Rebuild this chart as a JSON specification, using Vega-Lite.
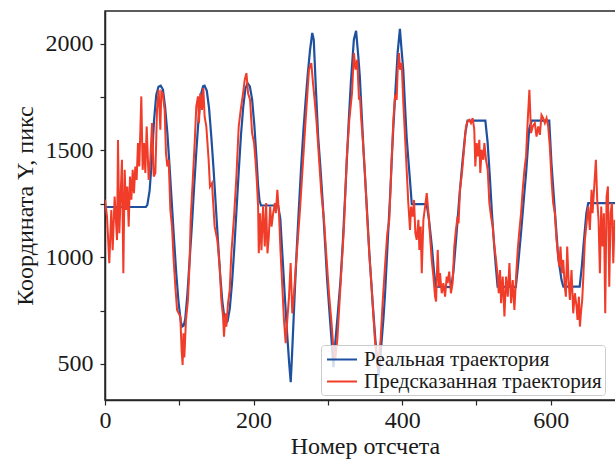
{
  "$schema": "https://vega.github.io/schema/vega-lite/v6.json",
  "width": 520,
  "height": 389,
  "autosize": {"type": "none"},
  "padding": {"left": 105, "top": 11, "right": 0, "bottom": 59},
  "background": "white",
  "config": {
    "font": "Liberation Serif",
    "view": {"stroke": "#262626", "strokeWidth": 1.5},
    "axis": {
      "grid": false,
      "labelFlush": false,
      "domainColor": "#262626",
      "domainWidth": 1.5,
      "tickColor": "#262626",
      "tickWidth": 1.2,
      "tickSize": 5,
      "labelFont": "Liberation Serif",
      "titleFont": "Liberation Serif",
      "labelFontSize": 24,
      "labelColor": "#1a1a1a",
      "titleFontSize": 24,
      "titleFontWeight": "normal",
      "titleColor": "#1a1a1a"
    },
    "legend": {
      "labelFont": "Liberation Serif",
      "labelFontSize": 21,
      "labelColor": "#1a1a1a",
      "labelLimit": 0
    }
  },
  "datasets": {
    "real": [
      {"x":0,"y":1235},{"x":55,"y":1235},{"x":57,"y":1245},{"x":60,"y":1310},{"x":63,"y":1450},{"x":66,"y":1640},{"x":69,"y":1760},{"x":72,"y":1798},{"x":75,"y":1803},{"x":78,"y":1785},{"x":81,"y":1700},{"x":84,"y":1580},{"x":87,"y":1420},{"x":90,"y":1250},{"x":93,"y":1080},{"x":96,"y":920},{"x":99,"y":790},{"x":102,"y":700},{"x":104,"y":675},{"x":106,"y":680},{"x":108,"y":710},{"x":111,"y":830},{"x":114,"y":990},{"x":117,"y":1150},{"x":120,"y":1330},{"x":123,"y":1500},{"x":126,"y":1650},{"x":129,"y":1760},{"x":132,"y":1800},{"x":134,"y":1803},{"x":137,"y":1780},{"x":140,"y":1700},{"x":143,"y":1570},{"x":146,"y":1420},{"x":149,"y":1250},{"x":152,"y":1080},{"x":155,"y":920},{"x":158,"y":790},{"x":161,"y":710},{"x":163,"y":692},{"x":165,"y":700},{"x":168,"y":760},{"x":171,"y":880},{"x":174,"y":1040},{"x":177,"y":1220},{"x":180,"y":1400},{"x":183,"y":1570},{"x":186,"y":1700},{"x":189,"y":1790},{"x":192,"y":1815},{"x":195,"y":1800},{"x":198,"y":1740},{"x":201,"y":1620},{"x":204,"y":1460},{"x":206,"y":1340},{"x":208,"y":1265},{"x":210,"y":1242},{"x":233,"y":1242},{"x":236,"y":1180},{"x":239,"y":1000},{"x":242,"y":820},{"x":245,"y":650},{"x":248,"y":500},{"x":250,"y":414},{"x":252,"y":560},{"x":255,"y":800},{"x":258,"y":1030},{"x":261,"y":1230},{"x":264,"y":1420},{"x":267,"y":1590},{"x":270,"y":1730},{"x":273,"y":1860},{"x":276,"y":1970},{"x":279,"y":2050},{"x":281,"y":2019},{"x":284,"y":1780},{"x":287,"y":1560},{"x":290,"y":1420},{"x":293,"y":1260},{"x":296,"y":1080},{"x":299,"y":894},{"x":302,"y":750},{"x":305,"y":610},{"x":307.5,"y":485},{"x":310,"y":600},{"x":313,"y":720},{"x":317,"y":890},{"x":320,"y":1060},{"x":322,"y":1200},{"x":324,"y":1340},{"x":326,"y":1487},{"x":328,"y":1630},{"x":331,"y":1820},{"x":335,"y":2019},{"x":338,"y":2060},{"x":341,"y":1940},{"x":343,"y":1847},{"x":346,"y":1640},{"x":348,"y":1500},{"x":350,"y":1380},{"x":352,"y":1260},{"x":356,"y":1010},{"x":360,"y":800},{"x":364,"y":610},{"x":368.5,"y":440},{"x":372,"y":590},{"x":375,"y":720},{"x":377,"y":830},{"x":381,"y":1100},{"x":384,"y":1300},{"x":386,"y":1456},{"x":388,"y":1600},{"x":390,"y":1720},{"x":392,"y":1840},{"x":394,"y":1960},{"x":397,"y":2069},{"x":399,"y":1980},{"x":401.5,"y":1878},{"x":404,"y":1700},{"x":406,"y":1565},{"x":408.5,"y":1450},{"x":410.5,"y":1362},{"x":413,"y":1248},{"x":433,"y":1248},{"x":436,"y":1180},{"x":440,"y":1050},{"x":443,"y":930},{"x":445.5,"y":862},{"x":466,"y":860},{"x":469,"y":930},{"x":473,"y":1100},{"x":477,"y":1280},{"x":481,"y":1440},{"x":485,"y":1580},{"x":488,"y":1640},{"x":512,"y":1640},{"x":515,"y":1540},{"x":518,"y":1380},{"x":521,"y":1200},{"x":524,"y":1050},{"x":526,"y":960},{"x":528.5,"y":862},{"x":553,"y":860},{"x":556,"y":960},{"x":560,"y":1112},{"x":564,"y":1280},{"x":567,"y":1400},{"x":571,"y":1600},{"x":574.5,"y":1640},{"x":598,"y":1640},{"x":601,"y":1440},{"x":605.5,"y":1220},{"x":608,"y":1100},{"x":610,"y":1003},{"x":614.5,"y":894},{"x":617,"y":862},{"x":639,"y":862},{"x":642,"y":960},{"x":644,"y":1050},{"x":648,"y":1206},{"x":650.5,"y":1253},{"x":700,"y":1253}
    ],
    "pred": [
      {"x":0,"y":1269},{"x":2.7,"y":1190},{"x":5.8,"y":972},{"x":8.5,"y":1221},{"x":10.3,"y":1033},{"x":13,"y":1284},{"x":16.2,"y":1080},{"x":17.5,"y":1549},{"x":19.3,"y":1112},{"x":21,"y":1284},{"x":22.8,"y":1456},{"x":24.7,"y":925},{"x":26.5,"y":1409},{"x":28.3,"y":1221},{"x":30.1,"y":1331},{"x":31.9,"y":1143},{"x":33.7,"y":1378},{"x":35.5,"y":1269},{"x":37.3,"y":1409},{"x":39,"y":1300},{"x":40.8,"y":1425},{"x":42.6,"y":1362},{"x":44.4,"y":1534},{"x":46.2,"y":1425},{"x":48.9,"y":1753},{"x":50.7,"y":1409},{"x":52.5,"y":1534},{"x":54.3,"y":1394},{"x":56.1,"y":1612},{"x":58.8,"y":1362},{"x":61,"y":1456},{"x":63.3,"y":1628},{"x":65.6,"y":1378},{"x":67.8,"y":1394},{"x":70,"y":1690},{"x":72.2,"y":1784},{"x":74.5,"y":1597},{"x":75.8,"y":1776},{"x":77.6,"y":1768},{"x":80.3,"y":1690},{"x":82.1,"y":1487},{"x":83.9,"y":1425},{"x":85.7,"y":1456},{"x":88,"y":1221},{"x":90.2,"y":1143},{"x":92.4,"y":987},{"x":94.7,"y":862},{"x":97,"y":753},{"x":99.2,"y":737},{"x":101.4,"y":722},{"x":103.2,"y":560},{"x":104.5,"y":495},{"x":105.6,"y":643},{"x":106.8,"y":530},{"x":109,"y":706},{"x":111.7,"y":800},{"x":114,"y":987},{"x":115.3,"y":1175},{"x":118.4,"y":1378},{"x":120.7,"y":1534},{"x":122.9,"y":1706},{"x":125.2,"y":1753},{"x":126.5,"y":1628},{"x":128.3,"y":1768},{"x":130.6,"y":1690},{"x":132.4,"y":1792},{"x":134.1,"y":1659},{"x":136.4,"y":1612},{"x":139.5,"y":1456},{"x":141.3,"y":1331},{"x":144,"y":1347},{"x":147.6,"y":1143},{"x":151.2,"y":1080},{"x":154.4,"y":956},{"x":156.6,"y":800},{"x":158.9,"y":722},{"x":160.2,"y":628},{"x":162,"y":737},{"x":163.4,"y":675},{"x":165.6,"y":784},{"x":167.9,"y":847},{"x":170.1,"y":1018},{"x":173.7,"y":1190},{"x":176.9,"y":1378},{"x":180,"y":1612},{"x":182.7,"y":1690},{"x":185.9,"y":1768},{"x":188.1,"y":1831},{"x":190.4,"y":1862},{"x":192.6,"y":1768},{"x":195.3,"y":1737},{"x":198,"y":1581},{"x":200.7,"y":1534},{"x":202.5,"y":1456},{"x":204.3,"y":1362},{"x":206.1,"y":1237},{"x":207,"y":1018},{"x":208.8,"y":1206},{"x":210.6,"y":1033},{"x":212.8,"y":1237},{"x":215.1,"y":1050},{"x":216.9,"y":1253},{"x":218.7,"y":1018},{"x":220.5,"y":1097},{"x":222.3,"y":1237},{"x":224.2,"y":1143},{"x":226.4,"y":1206},{"x":228.7,"y":1253},{"x":230,"y":1206},{"x":232,"y":1315},{"x":234.2,"y":1206},{"x":236.4,"y":1018},{"x":238.7,"y":862},{"x":240.9,"y":706},{"x":243.2,"y":597},{"x":245.4,"y":706},{"x":247.7,"y":815},{"x":249.9,"y":972},{"x":252.1,"y":737},{"x":254.4,"y":831},{"x":256.6,"y":940},{"x":258.9,"y":1050},{"x":262.5,"y":1222},{"x":265.6,"y":1394},{"x":270.1,"y":1643},{"x":274.6,"y":1878},{"x":277.7,"y":1909},{"x":280,"y":1815},{"x":282.2,"y":1737},{"x":284.9,"y":1628},{"x":287.6,"y":1487},{"x":291.2,"y":1300},{"x":294.8,"y":1175},{"x":298.4,"y":987},{"x":301.5,"y":831},{"x":304.6,"y":706},{"x":307.3,"y":581},{"x":310,"y":520},{"x":312.7,"y":612},{"x":317.2,"y":878},{"x":321.7,"y":1143},{"x":325.3,"y":1456},{"x":328.9,"y":1643},{"x":332.5,"y":1768},{"x":335.1,"y":1956},{"x":337.4,"y":1878},{"x":339.6,"y":1925},{"x":341.9,"y":1737},{"x":343.2,"y":1753},{"x":345,"y":1643},{"x":347.7,"y":1518},{"x":349.9,"y":1394},{"x":352.2,"y":1237},{"x":354.4,"y":1097},{"x":356.6,"y":972},{"x":358.9,"y":862},{"x":361.1,"y":737},{"x":363.4,"y":612},{"x":367,"y":480},{"x":371,"y":612},{"x":373.7,"y":784},{"x":376.9,"y":956},{"x":380,"y":1112},{"x":382.7,"y":1175},{"x":385.9,"y":1456},{"x":388.2,"y":1643},{"x":390.4,"y":1753},{"x":392.6,"y":1737},{"x":394,"y":1878},{"x":395.8,"y":1956},{"x":397.1,"y":1878},{"x":399.4,"y":1909},{"x":401.6,"y":1722},{"x":403.9,"y":1565},{"x":406.1,"y":1409},{"x":408.3,"y":1253},{"x":410.6,"y":1128},{"x":412,"y":1237},{"x":414.2,"y":1190},{"x":416,"y":1268},{"x":417.8,"y":1112},{"x":419.6,"y":1081},{"x":421.9,"y":1175},{"x":423.2,"y":1034},{"x":425,"y":1143},{"x":426.4,"y":925},{"x":428.6,"y":1175},{"x":430.9,"y":1237},{"x":433.1,"y":1300},{"x":435.4,"y":1206},{"x":437.6,"y":1097},{"x":439.8,"y":987},{"x":442.1,"y":909},{"x":444.3,"y":815},{"x":445.7,"y":792},{"x":446.6,"y":893},{"x":447.9,"y":1034},{"x":449.7,"y":862},{"x":451,"y":925},{"x":453.3,"y":831},{"x":455.5,"y":878},{"x":457.8,"y":815},{"x":460,"y":909},{"x":461.2,"y":878},{"x":463.4,"y":932},{"x":465.7,"y":831},{"x":467.9,"y":878},{"x":470.2,"y":1050},{"x":472.4,"y":1128},{"x":474.6,"y":1190},{"x":476,"y":1159},{"x":477.8,"y":1315},{"x":480.5,"y":1394},{"x":483.6,"y":1518},{"x":485.9,"y":1612},{"x":488.1,"y":1636},{"x":490.4,"y":1643},{"x":492.6,"y":1628},{"x":494.9,"y":1651},{"x":497.1,"y":1597},{"x":498.5,"y":1425},{"x":500.3,"y":1534},{"x":502.1,"y":1472},{"x":503.9,"y":1550},{"x":505.2,"y":1394},{"x":507,"y":1503},{"x":509.3,"y":1456},{"x":510.7,"y":1534},{"x":512.9,"y":1456},{"x":515.2,"y":1409},{"x":517.4,"y":1253},{"x":519.7,"y":1190},{"x":521.9,"y":1143},{"x":524.2,"y":1050},{"x":526.4,"y":987},{"x":528.7,"y":909},{"x":530,"y":831},{"x":531.8,"y":940},{"x":533.2,"y":784},{"x":535.4,"y":909},{"x":537.7,"y":722},{"x":539.9,"y":909},{"x":542.2,"y":815},{"x":544.4,"y":972},{"x":546.7,"y":784},{"x":548.9,"y":893},{"x":551.1,"y":753},{"x":553.4,"y":909},{"x":555.6,"y":1034},{"x":557.9,"y":1128},{"x":560.1,"y":1206},{"x":562.3,"y":1315},{"x":564.6,"y":1409},{"x":566.8,"y":1472},{"x":569.1,"y":1643},{"x":571.3,"y":1784},{"x":573.5,"y":1581},{"x":575.8,"y":1612},{"x":578.7,"y":1628},{"x":580.9,"y":1565},{"x":583.2,"y":1612},{"x":585.4,"y":1573},{"x":587.6,"y":1666},{"x":589.9,"y":1651},{"x":592.1,"y":1628},{"x":594.4,"y":1651},{"x":596.6,"y":1612},{"x":598.8,"y":1518},{"x":601.1,"y":1362},{"x":603.3,"y":1253},{"x":605.6,"y":1206},{"x":607.8,"y":1081},{"x":610.1,"y":1003},{"x":611.4,"y":956},{"x":613.2,"y":1050},{"x":615,"y":925},{"x":616.8,"y":987},{"x":619,"y":862},{"x":620.4,"y":815},{"x":622.2,"y":1050},{"x":624,"y":893},{"x":625.8,"y":800},{"x":628,"y":940},{"x":630.3,"y":737},{"x":632.5,"y":831},{"x":634.8,"y":768},{"x":636.1,"y":706},{"x":637.9,"y":815},{"x":639.3,"y":675},{"x":640.6,"y":737},{"x":642.4,"y":800},{"x":643.7,"y":893},{"x":646,"y":1081},{"x":648.3,"y":1159},{"x":650.5,"y":1237},{"x":652.7,"y":1128},{"x":655,"y":1315},{"x":656.3,"y":1206},{"x":658.6,"y":1331},{"x":660.8,"y":1456},{"x":662.6,"y":1268},{"x":664.4,"y":1175},{"x":666.2,"y":925},{"x":668,"y":1237},{"x":669.8,"y":1050},{"x":671.6,"y":1206},{"x":673.4,"y":737},{"x":675.2,"y":1284},{"x":677,"y":1331},{"x":678.8,"y":862},{"x":680.6,"y":1206},{"x":682.4,"y":1253},{"x":684.2,"y":972},{"x":686,"y":1175},{"x":690,"y":1100},{"x":695,"y":1250},{"x":700,"y":1150}
    ]
  },
  "encoding": {
    "x": {
      "field": "x",
      "type": "quantitative",
      "scale": {"domain": [0, 700], "nice": false, "zero": false},
      "axis": {
        "title": "Номер отсчета",
        "values": [0, 100, 200, 300, 400, 500, 600, 700],
        "labelExpr": "datum.value % 200 == 0 ? datum.label : ''",
        "format": "d",
        "labelPadding": 3,
        "titlePadding": 2
      }
    },
    "y": {
      "field": "y",
      "type": "quantitative",
      "scale": {"domain": [331, 2153], "nice": false, "zero": false},
      "axis": {
        "title": "Координата Y, пикс",
        "values": [500, 750, 1000, 1250, 1500, 1750, 2000],
        "labelExpr": "datum.value % 500 == 0 ? datum.label : ''",
        "format": "d",
        "labelPadding": 7,
        "titlePadding": 8
      }
    }
  },
  "layer": [
    {
      "data": {"name": "real"},
      "mark": {"type": "line", "strokeWidth": 2.2, "clip": true},
      "encoding": {
        "color": {
          "datum": "Реальная траектория",
          "type": "nominal",
          "scale": {"domain": ["Реальная траектория", "Предсказанная траектория"], "range": ["#1e50a0", "#f03c28"]},
          "legend": {
            "title": null,
            "orient": "none",
            "legendX": 216,
            "legendY": 334,
            "symbolType": "M-1.43,0H1.43",
            "symbolSize": 441,
            "symbolStrokeWidth": 2,
            "symbolOffset": 6.5,
            "labelOffset": 10.5,
            "rowPadding": 0,
            "padding": 3,
            "fillColor": "rgba(255,255,255,0.8)",
            "strokeColor": "#cccccc",
            "cornerRadius": 3
          }
        }
      }
    },
    {
      "data": {"name": "pred"},
      "mark": {"type": "line", "strokeWidth": 2, "clip": true},
      "encoding": {
        "color": {
          "datum": "Предсказанная траектория",
          "type": "nominal"
        }
      }
    }
  ]
}
